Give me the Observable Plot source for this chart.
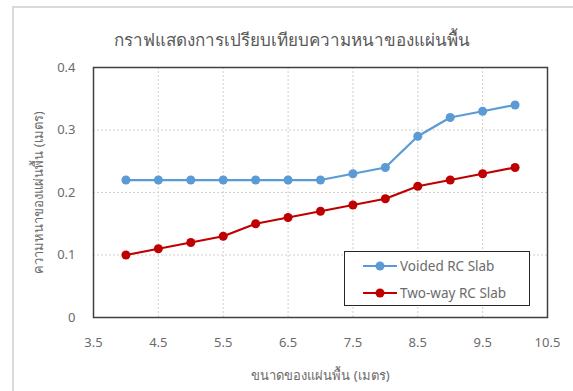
<!DOCTYPE html>
<html>
<head>
<meta charset="utf-8">
<script src="https://cdn.jsdelivr.net/npm/d3@7"></script>
<script src="https://cdn.jsdelivr.net/npm/@observablehq/plot@0.6"></script>
<style>
  html, body { margin: 0; padding: 0; background: #fff; }
  #wrap { position: relative; width: 573px; height: 391px; overflow: hidden; font-family: "Noto Sans", "DejaVu Sans", sans-serif; }
  #outer { position: absolute; left: 12px; top: 6px; width: 600px; height: 420px; border: 2px solid #d9d9d9; box-sizing: border-box; }
  #title { position: absolute; left: 2px; width: 580px; top: 26px; text-align: center; font-size: 17px; color: #595959; }
  #legend { position: absolute; left: 344px; top: 251px; width: 186px; height: 55px; border: 1.5px solid #262626; background: #fff; box-sizing: border-box; font-size: 13.5px; color: #6b6b6b; }
  .row { position: absolute; left: 17px; display: flex; align-items: center; height: 20px; }
  .row svg { margin-right: 2px; }
  #chart { position: absolute; left: 0; top: 0; }
</style>
</head>
<body>
<div id="wrap">
  <div id="outer"></div>
  <div id="chart"></div>
  <div id="title"></div>
  <div id="legend"></div>
</div>
<script>
const title = "กราฟแสดงการเปรียบเทียบความหนาของแผ่นพื้น";
const xLabel = "ขนาดของแผ่นพื้น (เมตร)";
const yLabel = "ความหนาของแผ่นพื้น (เมตร)";
const sizes = [4, 4.5, 5, 5.5, 6, 6.5, 7, 7.5, 8, 8.5, 9, 9.5, 10];
const voided = [0.22, 0.22, 0.22, 0.22, 0.22, 0.22, 0.22, 0.23, 0.24, 0.29, 0.32, 0.33, 0.34];
const twoWay = [0.10, 0.11, 0.12, 0.13, 0.15, 0.16, 0.17, 0.18, 0.19, 0.21, 0.22, 0.23, 0.24];
const seriesNames = ["Voided RC Slab", "Two-way RC Slab"];
const seriesColors = ["#5b9bd5", "#c00000"];
const xTicks = [3.5, 4.5, 5.5, 6.5, 7.5, 8.5, 9.5, 10.5];
const yTicks = [0, 0.1, 0.2, 0.3, 0.4];
const xGrid = [4.5, 5.5, 6.5, 7.5, 8.5, 9.5];
const yGrid = [0.1, 0.2, 0.3];

const data = [];
sizes.forEach((s, i) => {
  data.push({x: s, y: voided[i], series: seriesNames[0]});
  data.push({x: s, y: twoWay[i], series: seriesNames[1]});
});

document.getElementById("title").textContent = title;

const plot = Plot.plot({
  width: 573,
  height: 391,
  marginLeft: 93,
  marginRight: 26,
  marginTop: 67,
  marginBottom: 74,
  style: {fontFamily: '"Noto Sans", "DejaVu Sans", sans-serif', fontSize: "13px", color: "#6b6b6b", background: "transparent"},
  x: {domain: [3.5, 10.5], ticks: xTicks, tickFormat: d => String(d), label: xLabel, labelAnchor: "center"},
  y: {domain: [0, 0.4], ticks: yTicks, tickFormat: d => String(d), label: yLabel, labelAnchor: "center"},
  color: {domain: seriesNames, range: seriesColors},
  marks: [
    Plot.ruleX(xGrid, {stroke: "#d0d0d0", strokeDasharray: "2,2", strokeWidth: 1}),
    Plot.ruleY(yGrid, {stroke: "#d0d0d0", strokeDasharray: "2,2", strokeWidth: 1}),
    Plot.axisX({ticks: xTicks, tickSize: 0, tickPadding: 20, tickFormat: d => String(d), label: xLabel, labelAnchor: "center", labelOffset: 62, labelArrow: "none", fill: "#6b6b6b"}),
    Plot.axisY({ticks: yTicks, tickSize: 0, tickPadding: 18, tickFormat: d => String(d), label: yLabel, labelAnchor: "center", labelOffset: 60, labelArrow: "none", fill: "#6b6b6b"}),
    Plot.line(data, {x: "x", y: "y", stroke: "series", strokeWidth: 2.25, z: "series"}),
    Plot.dot(data, {x: "x", y: "y", fill: "series", r: 4.5, stroke: "none"}),
    Plot.frame({stroke: "#404040", strokeWidth: 1.5})
  ]
});
document.getElementById("chart").appendChild(plot);

const legend = document.getElementById("legend");
seriesNames.forEach((name, i) => {
  const row = document.createElement("div");
  row.className = "row";
  row.style.top = (4 + i * 27) + "px";
  row.innerHTML = `<svg width="36" height="12"><line x1="1" y1="6" x2="35" y2="6" stroke="${seriesColors[i]}" stroke-width="2"/><circle cx="18" cy="6" r="4.5" fill="${seriesColors[i]}"/></svg><span>${name}</span>`;
  legend.appendChild(row);
});
</script>
</body>
</html>
